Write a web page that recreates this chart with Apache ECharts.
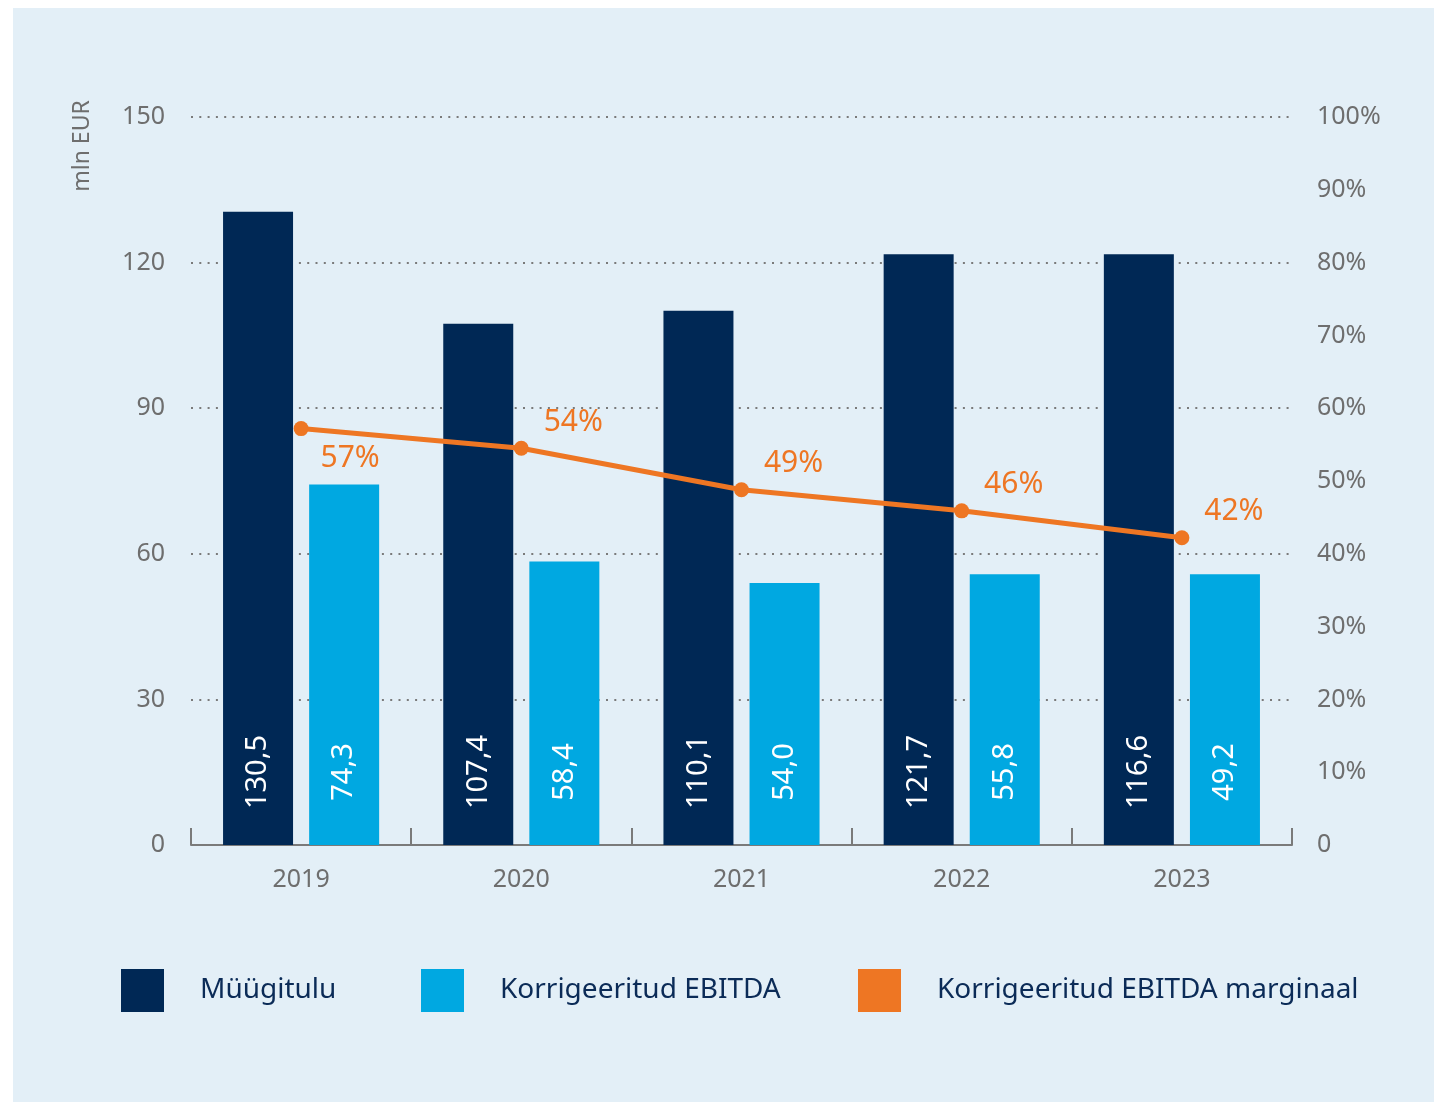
<!DOCTYPE html>
<html>
<head>
<meta charset="utf-8">
<script src="https://cdn.jsdelivr.net/npm/echarts@6/dist/echarts.min.js"></script>
<style>
  html, body { margin: 0; padding: 0; background: #ffffff; }
  #chart { width: 1434px; height: 1102px; }
</style>
</head>
<body>
<div id="chart"></div>
<script>
// ---- Data ----
const categories = ['2019', '2020', '2021', '2022', '2023'];
// bar heights as drawn in the picture
const salesValues = [130.5, 107.4, 110.1, 121.7, 121.7];
const ebitdaValues = [74.3, 58.4, 54.0, 55.8, 55.8];
// labels as printed in the picture
const salesLabels = ['130,5', '107,4', '110,1', '121,7', '116,6'];
const ebitdaLabels = ['74,3', '58,4', '54,0', '55,8', '49,2'];
const marginValues = [57.2, 54.5, 48.8, 45.9, 42.2];
const marginLabels = ['57%', '54%', '49%', '46%', '42%'];
const leftTicks = [0, 30, 60, 90, 120, 150];
const rightTicks = [0, 10, 20, 30, 40, 50, 60, 70, 80, 90, 100];
const seriesNames = ['Müügitulu', 'Korrigeeritud EBITDA', 'Korrigeeritud EBITDA marginaal'];

const NAVY = '#002855';
const CYAN = '#00A8E1';
const ORANGE = '#EE7623';
const GRAY = '#6e6e6e';
const FONT = 'Noto Sans';

const chart = echarts.init(document.getElementById('chart'), null, { renderer: 'canvas' });

const barLabel = (labels) => ({
  show: true,
  position: 'insideBottom',
  distance: 73,
  rotate: 90,
  align: 'center',
  verticalAlign: 'middle',
  color: '#ffffff',
  fontFamily: FONT,
  fontSize: 29,
  formatter: (p) => labels[p.dataIndex]
});

const legendBase = {
  orient: 'horizontal',
  top: 969,
  padding: 0,
  itemWidth: 43,
  itemHeight: 43,
  icon: 'rect',
  selectedMode: false,
  textStyle: { color: '#0b2b57', fontFamily: FONT, fontSize: 28, padding: [6, 0, 0, 31] }
};

const option = {
  backgroundColor: 'transparent',
  animation: false,
  graphic: [
    {
      type: 'rect', z: -10, silent: true,
      shape: { x: 13, y: 8, width: 1421, height: 1094 },
      style: { fill: '#E3EFF7' }
    },
    {
      type: 'text', silent: true,
      x: 82, y: 146, rotation: Math.PI / 2,
      style: {
        text: 'mln EUR', fill: GRAY, font: '23px "' + FONT + '"',
        align: 'center', verticalAlign: 'middle'
      }
    }
  ],
  legend: [
    Object.assign({}, legendBase, { left: 121, data: [seriesNames[0]] }),
    Object.assign({}, legendBase, { left: 421, data: [seriesNames[1]] }),
    Object.assign({}, legendBase, { left: 858, data: [seriesNames[2]] })
  ],
  grid: { left: 191, right: 142, top: 117, bottom: 257, containLabel: false },
  xAxis: {
    type: 'category',
    data: categories,
    boundaryGap: true,
    axisLine: { show: true, lineStyle: { color: '#7a7a7a', width: 2 } },
    axisTick: { show: true, inside: true, length: 17, lineStyle: { color: '#7a7a7a', width: 2 } },
    axisLabel: { color: GRAY, fontFamily: FONT, fontSize: 25, margin: 22 },
    splitLine: { show: false }
  },
  yAxis: [
    {
      type: 'value',
      min: leftTicks[0], max: leftTicks[leftTicks.length - 1], interval: 30,
      axisLine: { show: false }, axisTick: { show: false },
      axisLabel: { color: GRAY, fontFamily: FONT, fontSize: 25, margin: 26 },
      splitLine: { show: true, lineStyle: { color: '#7a7a7a', width: 2, type: [2, 6.3] } }
    },
    {
      type: 'value',
      min: rightTicks[0], max: rightTicks[rightTicks.length - 1], interval: 10,
      axisLine: { show: false }, axisTick: { show: false },
      axisLabel: {
        color: GRAY, fontFamily: FONT, fontSize: 25, margin: 25,
        formatter: (v) => (v === 0 ? '0' : v + '%')
      },
      splitLine: { show: false }
    }
  ],
  series: [
    {
      name: seriesNames[0], type: 'bar', yAxisIndex: 0,
      data: salesValues, barWidth: 70, barGap: '23%',
      itemStyle: { color: NAVY },
      label: barLabel(salesLabels), z: 2
    },
    {
      name: seriesNames[1], type: 'bar', yAxisIndex: 0,
      data: ebitdaValues, barWidth: 70, barGap: '23%',
      itemStyle: { color: CYAN },
      label: barLabel(ebitdaLabels), z: 2
    },
    {
      name: seriesNames[2], type: 'line', yAxisIndex: 1,
      data: marginValues.map((v, i) => ({
        value: v,
        label: { offset: i === 0 ? [49, 30] : [52, -26] }
      })),
      symbol: 'circle', symbolSize: 15,
      itemStyle: { color: ORANGE },
      lineStyle: { color: ORANGE, width: 5 },
      label: {
        show: true, position: 'inside', align: 'center', verticalAlign: 'middle',
        color: ORANGE, fontFamily: FONT, fontSize: 30,
        formatter: (p) => marginLabels[p.dataIndex]
      },
      z: 5
    }
  ]
};

chart.setOption(option);
</script>
</body>
</html>
